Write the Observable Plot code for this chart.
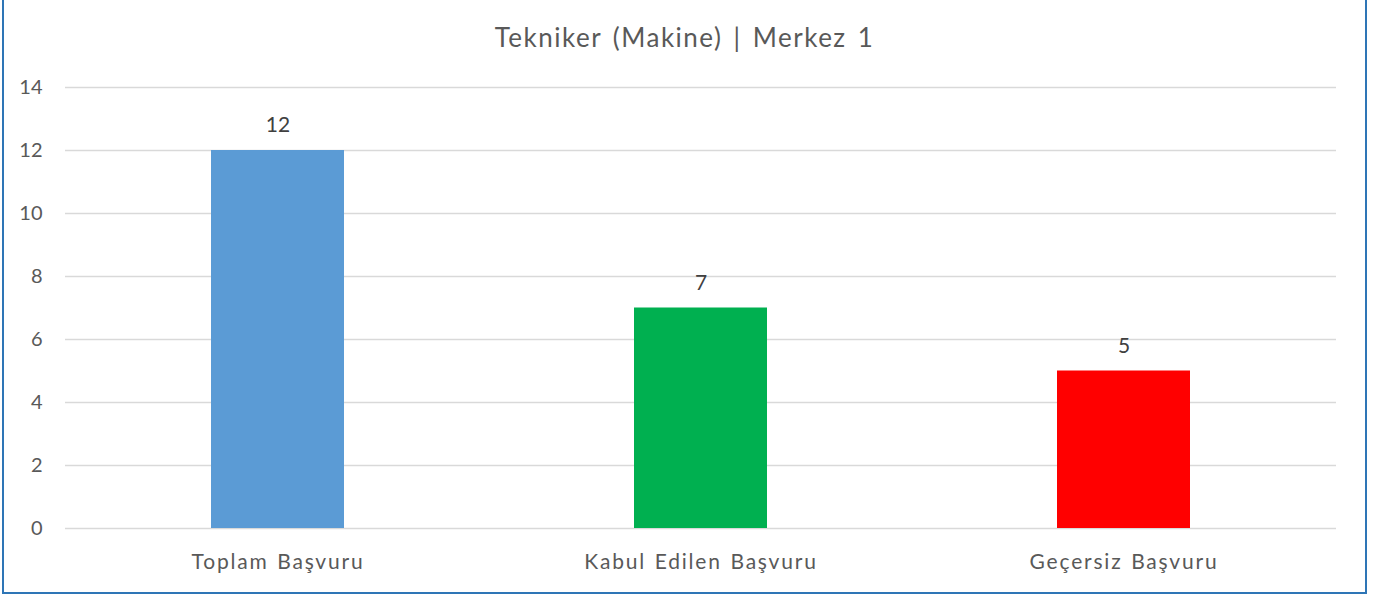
<!DOCTYPE html>
<html><head><meta charset="utf-8">
<script src="https://cdn.jsdelivr.net/npm/d3@7"></script>
<script src="https://cdn.jsdelivr.net/npm/@observablehq/plot@0.6"></script>
<style>
html,body{margin:0;padding:0;background:#fff;width:1376px;height:596px;overflow:hidden;}
#box{position:absolute;left:2px;top:-2px;width:1361px;height:592px;border:2px solid #2E75B6;background:#fff;}
#title{height:62px;line-height:74px;text-align:center;font-family:Lato,sans-serif;font-size:26px;color:#595959;letter-spacing:1.5px;word-spacing:3px;}
svg{display:block;}
.xlab text{letter-spacing:1.8px;word-spacing:1.5px;}
</style></head>
<body>
<div id="box"><div id="title">Tekniker (Makine) | Merkez 1</div><div id="chart"></div></div>
<script>
const categories = ["Toplam Başvuru", "Kabul Edilen Başvuru", "Geçersiz Başvuru"];
const values = [12, 7, 5];
const colors = ["#5B9BD5", "#00B050", "#FF0000"];
const yTicks = [0, 2, 4, 6, 8, 10, 12, 14];

const data = categories.map((c, i) => ({cat: c, val: values[i], col: colors[i]}));

const chart = Plot.plot({
  width: 1361,
  height: 530,
  marginLeft: 61,
  marginRight: 29,
  marginTop: 25,
  marginBottom: 64,
  style: {fontFamily: "Lato, sans-serif", fontSize: "20px", color: "#595959", background: "#fff"},
  x: {domain: categories, paddingInner: 0.686, paddingOuter: 0.343, label: null},
  y: {domain: [0, 14], label: null},
  marks: [
    Plot.gridY(yTicks, {stroke: "#D9D9D9", strokeOpacity: 1, strokeWidth: 1.5}),
    Plot.axisY(yTicks, {tickSize: 0, tickPadding: 23, fontSize: 20, fill: "#595959", label: null}),
    Plot.axisX({tickSize: 0, tickPadding: 26, fontSize: 21, fill: "#595959", label: null, className: "xlab"}),
    Plot.barY(data, {x: "cat", y: "val", fill: "col"}),
    Plot.text(data, {x: "cat", y: "val", text: d => String(d.val), dy: -25, fontSize: 21, fill: "#404040"})
  ]
});
document.getElementById("chart").appendChild(chart);
</script>
</body></html>
